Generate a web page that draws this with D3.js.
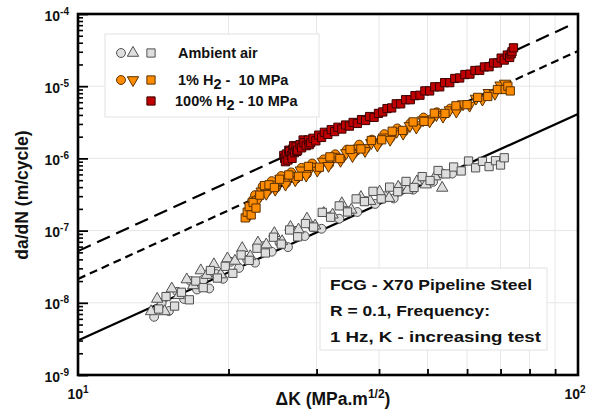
<!DOCTYPE html>
<html>
<head>
<meta charset="utf-8">
<script src="https://cdn.jsdelivr.net/npm/d3@7"></script>
<style>
  body { margin: 0; background: #fff; }
  text { font-family: Arial, "Liberation Sans", sans-serif; font-weight: bold; fill: #111; }
</style>
</head>
<body>
<svg id="chart" width="597" height="416"></svg>
<script>
// ΔK (MPa.m^1/2), da/dN (m/cycle)
const airCircles = [[14.2,6.4e-9],[14.7,9.9e-9],[15.2,7.7e-9],[15.8,1.42e-8],[16.3,1.13e-8],[16.8,2.0e-8],[17.3,1.53e-8],[17.8,2.09e-8],[18.3,1.58e-8],[18.9,2.5e-8],[19.5,2.15e-8],[20.2,3.7e-8],[21.0,3.04e-8],[21.8,3.94e-8],[22.6,3.6e-8],[23.5,6.1e-8],[24.4,5.1e-8],[25.3,6.8e-8],[26.3,5.9e-8],[27.3,9.9e-8],[28.4,8.4e-8],[29.5,1.11e-7],[30.7,1.06e-7],[32.0,1.58e-7],[33.3,1.46e-7],[34.7,1.86e-7],[36.2,1.81e-7],[37.7,2.57e-7],[39.3,2.34e-7],[41.0,3.0e-7],[42.8,2.79e-7],[44.7,4.05e-7],[46.8,3.69e-7],[49.0,4.92e-7],[51.3,4.74e-7],[53.5,6.18e-7],[56.0,6.16e-7]];
const airTriangles = [[14.0,7.6e-9],[14.4,1.13e-8],[14.9,7.6e-9],[15.4,1.57e-8],[15.9,1.27e-8],[16.5,2.1e-8],[17.0,1.74e-8],[17.6,2.8e-8],[18.1,2.42e-8],[18.7,3.4e-8],[19.3,2.46e-8],[19.9,4.1e-8],[20.6,3.8e-8],[21.3,5.7e-8],[22.1,4.4e-8],[22.9,6.8e-8],[23.8,6.4e-8],[24.7,9.2e-8],[25.6,7.1e-8],[26.6,1.12e-7],[27.6,1.03e-7],[28.7,1.46e-7],[29.8,1.17e-7],[31.0,1.75e-7],[32.3,1.66e-7],[33.7,2.38e-7],[35.2,1.94e-7],[36.8,2.9e-7],[38.4,2.56e-7],[40.1,3.45e-7],[41.9,2.82e-7],[43.7,4.03e-7],[45.6,3.65e-7],[47.6,4.78e-7],[49.6,4.33e-7],[51.8,5.6e-7],[53.5,3.9e-7]];
const airSquares = [[14.5,8.2e-9],[15.0,1.22e-8],[15.6,9.0e-9],[16.1,1.4e-8],[16.7,1.1e-8],[17.2,2.0e-8],[17.8,1.62e-8],[18.4,2.8e-8],[19.0,2.2e-8],[19.7,3.2e-8],[20.4,2.56e-8],[21.2,4.6e-8],[22.0,3.87e-8],[22.8,5.7e-8],[23.7,4.9e-8],[24.6,8.1e-8],[25.5,6.5e-8],[26.5,1.02e-7],[27.5,8.2e-8],[28.5,1.25e-7],[29.6,1.12e-7],[30.8,1.79e-7],[32.0,1.53e-7],[33.3,2.2e-7],[34.6,1.81e-7],[36.0,2.75e-7],[37.4,2.52e-7],[38.9,3.5e-7],[40.4,2.75e-7],[42.0,4.0e-7],[43.6,3.46e-7],[45.3,4.8e-7],[47.0,3.96e-7],[48.8,5.6e-7],[50.6,4.94e-7],[52.5,6.8e-7],[54.4,6.1e-7],[56.4,7.6e-7],[58.4,6.7e-7],[60.4,9.2e-7],[62.4,7.4e-7],[64.4,9.1e-7],[66.4,7.7e-7],[68.4,9.3e-7],[70.0,8.1e-7],[71.2,1.02e-6]];

const h1Circles = [[22.0,1.9e-7],[22.3,2.6e-7],[22.6,3.1e-7],[23.0,2.9e-7],[23.4,4.1e-7],[23.9,3.5e-7],[24.4,4.85e-7],[24.9,3.9e-7],[25.5,5.7e-7],[26.1,4.55e-7],[26.7,6.4e-7],[27.3,5.2e-7],[28.0,7.4e-7],[28.7,6.1e-7],[29.4,8.5e-7],[30.2,7.1e-7],[31.0,9.7e-7],[31.8,8.3e-7],[32.7,1.14e-6],[33.6,9.9e-7],[34.5,1.32e-6],[35.5,1.15e-6],[36.5,1.55e-6],[37.6,1.36e-6],[38.7,1.82e-6],[39.8,1.62e-6],[41.0,2.17e-6],[42.2,1.94e-6],[43.5,2.6e-6],[44.8,2.33e-6],[46.2,3.07e-6],[47.6,2.85e-6],[49.1,3.68e-6],[50.6,3.44e-6],[52.2,4.35e-6],[53.8,4.0e-6],[55.5,4.9e-6],[57.2,4.75e-6]];
const h1Triangles = [[22.1,1.7e-7],[22.5,2.25e-7],[22.9,2.65e-7],[23.3,3.5e-7],[23.8,3.25e-7],[24.3,4.35e-7],[24.8,3.7e-7],[25.4,5.2e-7],[26.0,4.35e-7],[26.6,5.75e-7],[27.2,5.0e-7],[27.9,6.85e-7],[28.6,5.8e-7],[29.3,7.7e-7],[30.1,6.8e-7],[30.9,9.05e-7],[31.7,7.9e-7],[32.6,1.06e-6],[33.5,9.3e-7],[34.4,1.19e-6],[35.4,1.08e-6],[36.4,1.38e-6],[37.5,1.27e-6],[38.6,1.64e-6],[39.7,1.52e-6],[40.9,1.96e-6],[42.1,1.82e-6],[43.4,2.35e-6],[44.7,2.21e-6],[46.1,2.82e-6],[47.5,2.68e-6],[49.0,3.39e-6],[50.5,3.27e-6],[52.1,4.0e-6],[53.7,3.8e-6],[55.4,4.66e-6],[57.1,4.46e-6],[58.9,5.65e-6],[60.7,5.4e-6],[62.5,6.75e-6],[64.4,6.55e-6],[66.3,8.1e-6],[68.2,7.9e-6],[70.0,1.03e-5],[71.5,1.09e-5]];
const h1Squares = [[21.6,1.5e-7],[21.8,1.8e-7],[22.0,2.15e-7],[22.2,1.65e-7],[22.4,2.45e-7],[22.7,2.05e-7],[23.1,3.1e-7],[23.6,4.2e-7],[24.1,4.3e-7],[24.7,3.95e-7],[25.3,5.15e-7],[26.4,5.9e-7],[27.6,5.65e-7],[28.9,7.75e-7],[30.4,7.55e-7],[31.9,1.05e-6],[33.4,9.95e-7],[35.0,1.33e-6],[36.8,1.35e-6],[38.6,1.77e-6],[40.5,1.81e-6],[42.5,2.38e-6],[44.6,2.44e-6],[46.8,3.2e-6],[49.2,3.26e-6],[51.6,4.23e-6],[54.2,4.2e-6],[57.0,5.35e-6],[60.0,5.55e-6],[63.0,7.0e-6],[66.0,7.2e-6],[69.0,9.0e-6],[71.5,9.0e-6],[72.4,1.0e-5],[73.2,8.6e-6]];

const h100Squares = [[25.8,1.1e-6],[25.9,1.0e-6],[26.0,0.9e-6],[26.1,1.15e-6],[26.3,0.95e-6],[26.4,1.3e-6],[26.5,1.25e-6],[26.7,1.1e-6],[26.8,1.0e-6],[26.9,1.35e-6],[27.0,1.5e-6],[27.1,1.2e-6],[27.3,1.45e-6],[27.4,1.25e-6],[27.5,1.3e-6],[27.8,1.55e-6],[28.0,1.4e-6],[28.2,1.8e-6],[28.3,1.65e-6],[28.6,1.5e-6],[28.9,1.8e-6],[29.0,1.55e-6],[29.2,1.65e-6],[29.5,1.9e-6],[29.9,1.75e-6],[30.3,2.1e-6],[30.7,1.95e-6],[31.1,2.3e-6],[31.6,2.15e-6],[32.1,2.5e-6],[32.6,2.35e-6],[33.1,2.7e-6],[33.7,2.55e-6],[34.3,2.9e-6],[34.9,2.8e-6],[35.5,3.15e-6],[36.2,3.05e-6],[36.9,3.45e-6],[37.6,3.35e-6],[38.3,3.8e-6],[39.1,3.7e-6],[39.9,4.2e-6],[40.7,4.4e-6],[41.5,4.9e-6],[42.4,5.0e-6],[43.3,5.7e-6],[44.2,5.7e-6],[45.2,6.5e-6],[46.2,6.5e-6],[47.2,7.4e-6],[48.3,7.5e-6],[49.4,8.6e-6],[50.5,8.6e-6],[51.7,9.8e-6],[52.9,9.8e-6],[54.1,1.12e-5],[55.4,1.12e-5],[56.7,1.28e-5],[58.0,1.30e-5],[59.4,1.45e-5],[60.8,1.47e-5],[62.2,1.65e-5],[63.6,1.66e-5],[65.0,1.85e-5],[66.4,1.86e-5],[67.8,2.1e-5],[69.0,2.1e-5],[70.2,2.45e-5],[71.2,2.3e-5],[72.2,2.7e-5],[73.0,2.5e-5],[73.5,2.8e-5],[73.8,3.0e-5],[74.3,3.4e-5]];

// fitted trend lines (end points)
const airLine = [[10,3.0e-9],[100,4.12e-6]];
const h1Line = [[10,2.14e-8],[100,3.07e-5]];
const h100Line = [[10,5.2e-8],[97.7,7.26e-5]];

const xTicks = [20,30,40,50,60,70,80,90];
const yDecades = [1e-9,1e-8,1e-7,1e-6,1e-5,1e-4];
const yExp = ["-9","-8","-7","-6","-5","-4"];

const padL = 78, padR = 578, padT = 14, padB = 375;
const svg = d3.select("#chart");

const x = d3.scaleLog().domain([10,100]).range([padL,padR]);
const y = d3.scaleLog().domain([1e-9,1e-4]).range([padB,padT]);

svg.append("clipPath").attr("id","plotClip")
  .append("rect").attr("x",padL).attr("y",padT).attr("width",padR-padL).attr("height",padB-padT);

// grid
svg.append("g").selectAll("line").data(xTicks).join("line")
  .attr("x1",d=>x(d)).attr("x2",d=>x(d)).attr("y1",padT).attr("y2",padB)
  .attr("stroke","#e6e6e6").attr("stroke-width",1);
svg.append("g").selectAll("line").data(yDecades.slice(1,-1)).join("line")
  .attr("x1",padL).attr("x2",padR).attr("y1",d=>y(d)).attr("y2",d=>y(d))
  .attr("stroke","#e6e6e6").attr("stroke-width",1);

// trend lines
const line = d3.line().x(d=>x(d[0])).y(d=>y(d[1]));
const lines = svg.append("g").attr("clip-path","url(#plotClip)");
lines.append("path").datum(airLine).attr("d",line)
  .attr("fill","none").attr("stroke","#000").attr("stroke-width",2.2);
lines.append("path").datum(h1Line).attr("d",line)
  .attr("fill","none").attr("stroke","#000").attr("stroke-width",2.2).attr("stroke-dasharray","8,5");
lines.append("path").datum(h100Line).attr("d",line)
  .attr("fill","none").attr("stroke","#000").attr("stroke-width",2.2).attr("stroke-dasharray","14,7");

// markers
const circle = d3.symbol().type(d3.symbolCircle).size(62)();
const tri = d3.symbol().type(d3.symbolTriangle).size(56)();
const square = d3.symbol().type(d3.symbolSquare).size(68)();

function drawPoints(data, path, fill, stroke, rot) {
  svg.append("g").selectAll("path").data(data).join("path")
    .attr("d", path)
    .attr("transform", d => "translate(" + x(d[0]) + "," + y(d[1]) + ")" + (rot ? " rotate(180)" : ""))
    .attr("fill", fill).attr("stroke", stroke).attr("stroke-width", 1);
}
const grayFill = "#dedede", grayEdge = "#505050";
const orange = "#ff8c00", orangeEdge = "#5a3000";
const red = "#c00000", redEdge = "#3a0000";

drawPoints(airCircles, circle, grayFill, grayEdge);
drawPoints(airTriangles, tri, grayFill, grayEdge);
drawPoints(airSquares, square, grayFill, grayEdge);
drawPoints(h1Circles, circle, orange, orangeEdge);
drawPoints(h1Triangles, tri, orange, orangeEdge, true);
drawPoints(h1Squares, square, orange, orangeEdge);
drawPoints(h100Squares, square, red, redEdge);

// ticks (inward)
const minors = [];
for (let e = -9; e < -4; e++) for (let m = 2; m < 10; m++) minors.push(m * Math.pow(10, e));
svg.append("g").attr("transform","translate(" + padL + ",0)")
  .call(d3.axisRight(y).tickValues(minors).tickSize(5).tickFormat(""))
  .call(g => g.select(".domain").remove())
  .selectAll("line").attr("stroke-width",1.6);
svg.append("g").attr("transform","translate(" + padL + ",0)")
  .call(d3.axisRight(y).tickValues(yDecades).tickSize(10).tickFormat(""))
  .call(g => g.select(".domain").remove())
  .selectAll("line").attr("stroke-width",1.8);
svg.append("g").attr("transform","translate(0," + padB + ")")
  .call(d3.axisTop(x).tickValues(xTicks).tickSize(6).tickFormat(""))
  .call(g => g.select(".domain").remove())
  .selectAll("line").attr("stroke-width",1.8);

// frame
svg.append("rect").attr("x",padL).attr("y",padT).attr("width",padR-padL).attr("height",padB-padT)
  .attr("fill","none").attr("stroke","#000").attr("stroke-width",2.6);

// tick labels
yDecades.forEach((d,i) => {
  const t = svg.append("text").attr("x",padL-9).attr("y",y(d)+6.5)
    .attr("text-anchor","end").style("font-size","14px");
  t.append("tspan").text("10");
  t.append("tspan").attr("dy",-6).style("font-size","10px").text(yExp[i]);
});
[[10,"1"],[100,"2"]].forEach(d => {
  const t = svg.append("text").attr("x",x(d[0])-(d[0]==100?3:0)).attr("y",399)
    .attr("text-anchor","middle").style("font-size","14px");
  t.append("tspan").text("10");
  t.append("tspan").attr("dy",-6).style("font-size","10px").text(d[1]);
});

// axis titles
const xt = svg.append("text").attr("x",333).attr("y",405).attr("text-anchor","middle").style("font-size","17.5px");
xt.append("tspan").text("ΔK (MPa.m");
xt.append("tspan").attr("dy",-7).style("font-size","12px").text("1/2");
xt.append("tspan").attr("dy",7).text(")");
svg.append("text").attr("transform","translate(28,195) rotate(-90)")
  .attr("text-anchor","middle").style("font-size","17.5px").text("da/dN (m/cycle)");

// legend
svg.append("rect").attr("x",105).attr("y",34).attr("width",214).attr("height",83)
  .attr("fill","#fff").attr("stroke","#e2e2e2");
const legendRows = [
  {y: 53, marks: [[121,circle,grayFill,grayEdge,false],[133,tri,grayFill,grayEdge,false],[151,square,grayFill,grayEdge,false]]},
  {y: 80, marks: [[121,circle,orange,orangeEdge,false],[133,tri,orange,orangeEdge,true],[151,square,orange,orangeEdge,false]]},
  {y: 101, marks: [[151,square,red,redEdge,false]]}
];
legendRows.forEach(r => {
  r.marks.forEach(m => {
    svg.append("path").attr("d",m[1])
      .attr("transform","translate(" + m[0] + "," + r.y + ")" + (m[4] ? " rotate(180)" : ""))
      .attr("fill",m[2]).attr("stroke",m[3]).attr("stroke-width",1);
  });
});
svg.append("text").attr("x",178).attr("y",58).style("font-size","14.5px").text("Ambient air");
const l2 = svg.append("text").attr("x",178).attr("y",85).style("font-size","14.5px").attr("xml:space","preserve");
l2.append("tspan").text("1% H");
l2.append("tspan").attr("dy",4).text("2");
l2.append("tspan").attr("dy",-4).text(" -  10 MPa");
const l3 = svg.append("text").attr("x",175).attr("y",106).style("font-size","14.5px");
l3.append("tspan").text("100% H");
l3.append("tspan").attr("dy",4).text("2");
l3.append("tspan").attr("dy",-4).text(" - 10 MPa");

// annotation box
svg.append("rect").attr("x",320).attr("y",268).attr("width",227).attr("height",82)
  .attr("fill","#fff").attr("stroke","#e2e2e2");
const notes = [["FCG - X70 Pipeline Steel",290,202],["R = 0.1, Frequency:",316,160],["1 Hz, K - increasing test",342,211]];
notes.forEach(n => {
  svg.append("text").attr("x",330).attr("y",n[1]).style("font-size","15.5px")
    .attr("textLength",n[2]).attr("lengthAdjust","spacingAndGlyphs").text(n[0]);
});
</script>
</body>
</html>
